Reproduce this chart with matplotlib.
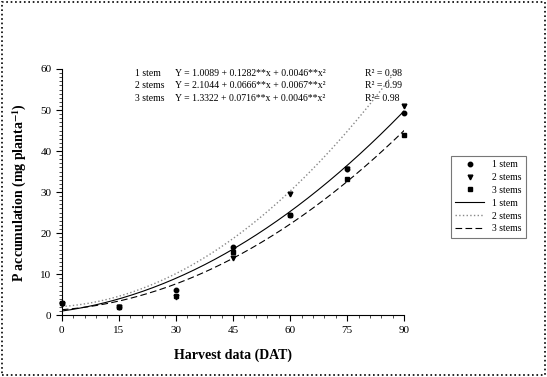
import matplotlib
matplotlib.use('Agg')
import matplotlib.pyplot as plt
from matplotlib.patches import Rectangle
from matplotlib.ticker import MultipleLocator
import numpy as np

plt.rcParams['font.family'] = ['Liberation Serif', 'DejaVu Serif']
plt.rcParams['mathtext.fontset'] = 'stix'

# harvest dates (DAT) and observed P accumulation
days = [0, 15, 30, 45, 60, 75, 90]
stem1 = [3.0, 2.1, 6.2, 16.6, 24.5, 35.6, 49.2]
stem2 = [2.8, 2.1, 4.5, 14.0, 29.6, 35.6, 51.0]
stem3 = [3.0, 2.1, 4.7, 15.3, 24.5, 33.1, 44.0]

# fitted quadratic coefficients (b0, b1, b2)
fit1 = (1.0089, 0.1282, 0.0046)
fit2 = (2.1044, 0.0666, 0.0067)
fit3 = (1.3322, 0.0716, 0.0046)

eq_lines = [
    ('1 stem', 'Y = 1.0089 + 0.1282**x + 0.0046**x\u00b2', 'R\u00b2 = 0.98'),
    ('2 stems', 'Y = 2.1044 + 0.0666**x + 0.0067**x\u00b2', 'R\u00b2 = 0.99'),
    ('3 stems', 'Y = 1.3322 + 0.0716**x + 0.0046**x\u00b2', 'R\u00b2= 0.98'),
]

fig = plt.figure(figsize=(5.47, 3.77), dpi=100)
ax = fig.add_axes([0.113, 0.164, 0.626, 0.653])

ax.plot(days, stem1, 'o', color='black', ms=3.2, clip_on=False, zorder=5, label='1 stem')
ax.plot(days, stem2, 'v', color='black', ms=3.4, clip_on=False, zorder=5, label='2 stems')
ax.plot(days, stem3, 's', color='black', ms=2.8, clip_on=False, zorder=5, label='3 stems')

xx = np.linspace(0, 90, 200)


def quad(c, x):
    return c[0] + c[1] * x + c[2] * x ** 2


ax.plot(xx, quad(fit1, xx), '-', color='black', lw=0.8, label='1 stem')
ax.plot(xx, quad(fit2, xx), ':', color='#888888', lw=1.0, label='2 stems')
ax.plot(xx, quad(fit3, xx), color='black', lw=0.8, dashes=(6, 3), label='3 stems')

ax.set_xlim(0, 90)
ax.set_ylim(0, 60)
ax.set_xticks(days)
ax.set_yticks(range(0, 61, 10))
ax.xaxis.set_minor_locator(MultipleLocator(3))
ax.yaxis.set_minor_locator(MultipleLocator(1))
ax.tick_params(which='major', direction='out', length=4, width=0.8, labelsize=8)
ax.tick_params(which='minor', direction='out', length=2, width=0.5)
for s in ['top', 'right']:
    ax.spines[s].set_visible(False)
for s in ['left', 'bottom']:
    ax.spines[s].set_linewidth(0.8)

ax.set_xlabel('Harvest data (DAT)', fontsize=10, fontweight='bold', labelpad=10)
ax.set_ylabel('P accumulation (mg planta$^{\\mathbf{-1}}$)', fontsize=10,
              fontweight='bold', labelpad=8)

for i, (lab, eq, r2) in enumerate(eq_lines):
    y = 0.98 - i * 0.049
    ax.text(0.213, y, lab, transform=ax.transAxes, fontsize=7, va='center')
    ax.text(0.330, y, eq, transform=ax.transAxes, fontsize=7, va='center')
    ax.text(0.885, y, r2, transform=ax.transAxes, fontsize=7, va='center')

handles, labels = ax.get_legend_handles_labels()
leg = fig.legend(handles, labels, loc='upper left', bbox_to_anchor=(0.815, 0.60),
                 fontsize=7, frameon=True, fancybox=False, edgecolor='#555555',
                 handlelength=3.0, borderpad=0.45, labelspacing=0.4, handletextpad=0.8)
leg.get_frame().set_linewidth(0.8)

fig.patches.append(Rectangle((0.004, 0.004), 0.992, 0.992, transform=fig.transFigure,
                             fill=False, ls=':', lw=1.2, color='black'))

fig.savefig('out.png', dpi=100)
